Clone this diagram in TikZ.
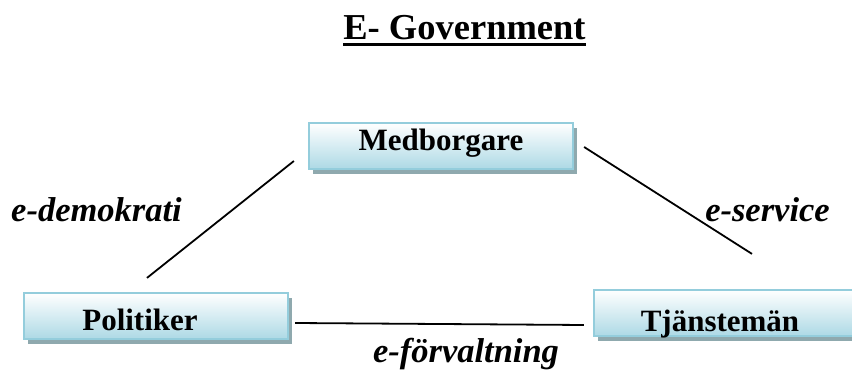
\documentclass[tikz,border=0pt]{standalone}
\usepackage{fontspec}
\setmainfont{Liberation Serif}
\usetikzlibrary{shadows}
\definecolor{boxedge}{HTML}{94CDDC}
\definecolor{boxblue}{HTML}{ADD9E5}
\definecolor{shadowgray}{HTML}{8FA9AE}
\begin{document}
\begin{tikzpicture}[x=1pt,y=-1pt,
  box/.style={draw=boxedge, line width=2.2pt, top color=white, bottom color=boxblue,
    minimum width=264pt, minimum height=46pt, inner sep=0pt,
    drop shadow={shadow xshift=4pt, shadow yshift=-5pt, fill=shadowgray, opacity=1}},
  boxtext/.style={anchor=base, inner sep=0pt, font=\fontsize{31}{35}\selectfont\bfseries},
  edgelabel/.style={anchor=base, inner sep=0pt, font=\fontsize{34.5}{38}\selectfont\bfseries\itshape},
  conn/.style={line width=1.8pt, black}]
\clip (0,0) rectangle (852,371);
\fill[white] (0,0) rectangle (852,371);
% title
\node[anchor=base, inner sep=0pt, font=\fontsize{36.5}{40}\selectfont\bfseries] (title) at (464.5,40) {E- Government};
\draw[line width=2.5pt] ([yshift=-4.5pt]title.base west) -- ([yshift=-4.5pt]title.base east);
% boxes
\node[box] (med) at (441,146) {};
\node[box] (pol) at (156,316) {};
\node[box] (tja) at (726,313) {};
\node[boxtext] (medT) at (441,151) {Medborgare};
\node[boxtext] (polT) at (140,331) {Politiker};
\node[boxtext] (tjaT) at (720,332) {Tjänstemän};
% connector end points
\coordinate (l1) at ([shift={(-9,-14)}]pol.north);
\coordinate (l2) at ([shift={(-14,15)}]med.west);
\coordinate (r1) at ([shift={(10,1)}]med.east);
\coordinate (r2) at ([shift={(26,-35)}]tja.north);
\coordinate (b1) at ([shift={(6,7)}]pol.east);
\coordinate (b2) at ([shift={(-9,12)}]tja.west);
\draw[conn] (l1) -- (l2);
\draw[conn] (r1) -- (r2);
\draw[conn] (b1) -- (b2);
% labels
\node[edgelabel] (demo) at (96.5,222) {e-demokrati};
\node[edgelabel] (serv) at (767.5,222) {e-service};
\node[edgelabel] (forv) at (466,363) {e-förvaltning};
\end{tikzpicture}
\end{document}
